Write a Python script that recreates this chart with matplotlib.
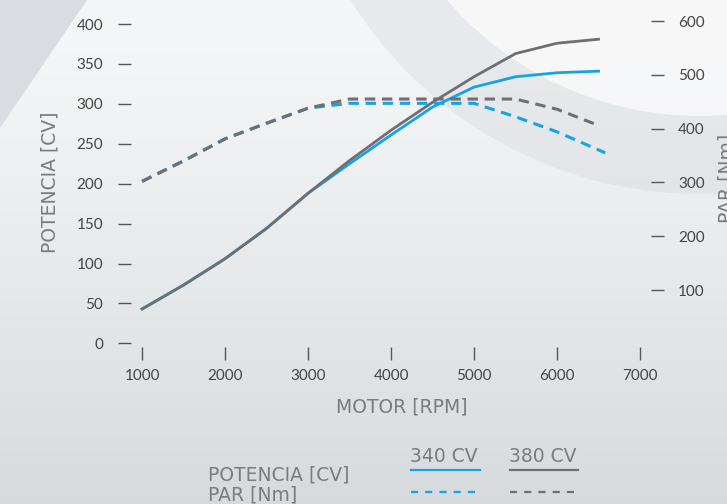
import numpy as np
import matplotlib.pyplot as plt
from matplotlib.patches import Wedge, Polygon, Circle
from matplotlib.lines import Line2D

# engine speed (rpm)
rpm = [1000, 1500, 2000, 2500, 3000, 3500, 4000, 4500, 5000, 5500, 6000, 6500]

# power (CV)
power_340 = [43, 73, 106, 144, 188, 225, 261, 296, 321, 334, 339, 341]
power_380 = [43, 73, 106, 144, 188, 229, 267, 302, 334, 363, 376, 381]

# torque (Nm)
rpm_torque_340 = [1000, 1500, 2000, 2500, 3000, 3500, 4000, 4500, 5000, 5500, 6000, 6580]
torque_340 = [302, 340, 381, 410, 438, 447, 447, 447, 447, 422, 394, 355]
rpm_torque_380 = [1000, 1500, 2000, 2500, 3000, 3500, 4000, 4500, 5000, 5500, 6000, 6500]
torque_380 = [302, 340, 381, 410, 438, 455, 455, 455, 455, 455, 436, 406]

x_ticks = [1000, 2000, 3000, 4000, 5000, 6000, 7000]
left_ticks = [0, 50, 100, 150, 200, 250, 300, 350, 400]
right_ticks = [100, 200, 300, 400, 500, 600]

BLUE = "#16a2e6"
GRAY = "#6e6f71"
W, H = 727, 504


def draw_background(fig):
    bg = fig.add_axes([0, 0, 1, 1], zorder=-5)
    bg.set_xlim(0, W)
    bg.set_ylim(H, 0)
    bg.axis("off")
    # soft vertical gradient
    top = np.array([0.960, 0.964, 0.968])
    bottom = np.array([0.840, 0.857, 0.870])
    t = np.linspace(0, 1, 200)[:, None]
    t = np.clip((t - 0.05) / 0.95, 0, 1) ** 1.2
    grad = top + (bottom - top) * t
    grad = np.repeat(grad[:, None, :], 2, axis=1)
    bg.imshow(grad, extent=[0, W, H, 0], aspect="auto", zorder=0)
    # big arc in the upper right
    bg.add_patch(Circle((700, -218), 334, color="#fafafb", alpha=0.6, lw=0, zorder=1))
    bg.add_patch(Wedge((700, -218), 412, 0, 360, width=78, color="#d5d9dd",
                       alpha=0.4, lw=0, zorder=1))
    # dark triangle top left
    bg.add_patch(Polygon([(0, 0), (87, 0), (0, 128)], color="#d9dde1", lw=0, zorder=1))


def main():
    plt.rcParams["font.family"] = ["Lato", "DejaVu Sans"]
    fig = plt.figure(figsize=(W / 100, H / 100), dpi=100)
    draw_background(fig)

    # axes box in pixels: left 131, right 651, top 18, bottom 347
    ax = fig.add_axes([131 / W, 1 - 347 / H, (651 - 131) / W, (347 - 18) / H])
    ax.patch.set_alpha(0)
    ax.set_xlim(867, 7132)
    ax.set_ylim(-4.6, 407.6)
    ax2 = ax.twinx()
    ax2.set_ylim(-5.9, 605.6)

    ax.plot(rpm, power_340, color=BLUE, lw=2, zorder=3)
    ax.plot(rpm, power_380, color=GRAY, lw=2, zorder=3)
    ax2.plot(rpm_torque_340, torque_340, color=BLUE, lw=2.2, dashes=(3.4, 2.2))
    ax2.plot(rpm_torque_380, torque_380, color=GRAY, lw=2.2, dashes=(3.4, 2.2))

    for a in (ax, ax2):
        for s in a.spines.values():
            s.set_visible(False)

    ax.set_xticks(x_ticks)
    ax.set_yticks(left_ticks)
    ax2.set_yticks(right_ticks)
    ax.tick_params(axis="x", length=9.5, width=1, color="#555555", pad=6,
                   labelsize=11, labelcolor="#444444")
    ax.tick_params(axis="y", length=9.5, width=1, color="#555555", pad=10.5,
                   labelsize=11, labelcolor="#444444")
    ax2.tick_params(axis="y", length=9.5, width=1, color="#555555", pad=10,
                    labelsize=11, labelcolor="#444444")

    lab_font = dict(family="DejaVu Sans", fontsize=13.5, color="#7b7b7b")
    fig.text(50 / W, 1 - 182 / H, "POTENCIA [CV]", rotation=90,
             ha="center", va="center", **lab_font)
    fig.text(402 / W, 1 - 407 / H, "MOTOR [RPM]", ha="center", va="center", **lab_font)
    fig.text(727 / W, 1 - 178 / H, "PAR [Nm]", rotation=90,
             ha="center", va="center", **lab_font)

    # legend table
    fig.text(208 / W, 1 - 475 / H, "POTENCIA [CV]", ha="left", va="center", **lab_font)
    fig.text(208 / W, 1 - 495 / H, "PAR [Nm]", ha="left", va="center", **lab_font)
    fig.text(444 / W, 1 - 457 / H, "340 CV", ha="center", va="center", **lab_font)
    fig.text(543 / W, 1 - 457 / H, "380 CV", ha="center", va="center", **lab_font)
    for x0, x1, c in [(411, 480, BLUE), (510, 578, GRAY)]:
        fig.add_artist(Line2D([x0 / W, x1 / W], [1 - 470 / H] * 2, color=c, lw=1.6))
        fig.add_artist(Line2D([x0 / W, x1 / W], [1 - 492 / H] * 2, color=c, lw=1.6,
                              dashes=(3.2, 3.2)))

    fig.savefig("out.png", dpi=100)


if __name__ == '__main__':
    main()
